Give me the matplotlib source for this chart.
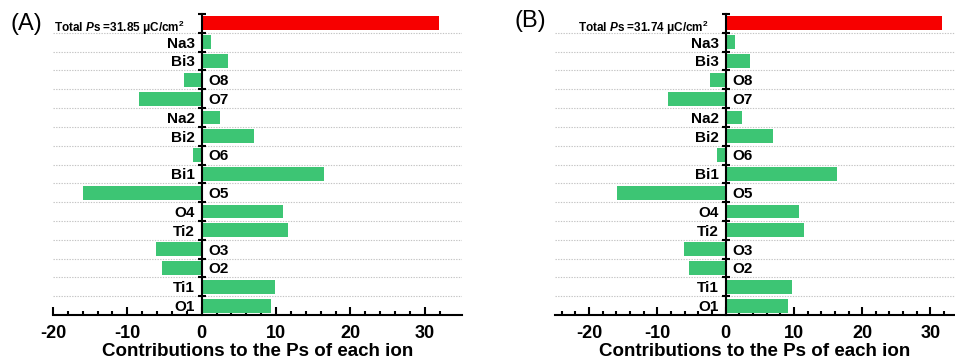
import matplotlib
matplotlib.use("Agg")
import matplotlib.pyplot as plt
import numpy as np

plt.rcParams['font.family'] = ['Liberation Sans', 'DejaVu Sans']
plt.rcParams['mathtext.fontset'] = 'custom'
plt.rcParams['mathtext.rm'] = 'Liberation Sans:bold'
plt.rcParams['mathtext.bf'] = 'Liberation Sans:bold'
plt.rcParams['mathtext.it'] = 'Liberation Sans:italic:bold'
plt.rcParams['mathtext.bfit'] = 'Liberation Sans:italic:bold'
plt.rcParams['axes.unicode_minus'] = False

ions = ["O1", "Ti1", "O2", "O3", "Ti2", "O4", "O5", "Bi1", "O6", "Bi2",
        "Na2", "O7", "O8", "Bi3", "Na3"]
contrib_A = [9.3, 9.9, -5.4, -6.2, 11.6, 10.9, -15.9, 16.4, -1.2, 7.0,
             2.4, -8.4, -2.4, 3.6, 1.3]
contrib_B = [9.2, 9.7, -5.4, -6.1, 11.5, 10.8, -15.9, 16.3, -1.2, 6.9,
             2.4, -8.4, -2.3, 3.6, 1.3]
total_A = 31.85
total_B = 31.74
panel_names = ["(A)", "(B)"]
xlims = [(-20, 35), (-25, 33.6)]
xticks = [-20, -10, 0, 10, 20, 30]

GREEN = "#3dc574"
RED = "#f70000"

fig = plt.figure(figsize=(9.55, 3.6), dpi=100)
axA = fig.add_axes([53/955, 45/360, 409/955, 301/360])
axB = fig.add_axes([555/955, 45/360, 400/955, 301/360])

for ax, vals, total, name, xl in zip([axA, axB], [contrib_A, contrib_B],
                                      [total_A, total_B], panel_names, xlims):
    n = len(ions)
    y = np.arange(n)
    ax.barh(y, vals, height=0.74, color=GREEN, zorder=2)
    ax.barh([n], [total], height=0.74, color=RED, zorder=2)

    # grid lines at category boundaries
    bounds = np.arange(n) + 0.5
    for b in bounds:
        ax.axhline(b, color="#c4c4c4", lw=0.8, ls=(0, (1.2, 1.2)), zorder=1)

    for s in ["top", "right"]:
        ax.spines[s].set_visible(False)
    ax.spines["left"].set_position(("data", 0))
    ax.spines["left"].set_linewidth(1.5)
    ax.spines["left"].set_zorder(3)
    ax.spines["bottom"].set_linewidth(1.5)

    ax.set_yticks(np.arange(n + 1))
    ax.set_yticklabels([])
    ax.tick_params(axis="y", which="major", length=0)
    ax.set_yticks(np.append(bounds, n + 0.5), minor=True)
    ax.tick_params(axis="y", which="minor", direction="inout", length=6, width=1.5)

    ax.set_xticks(xticks)
    ax.set_xticks(np.arange(-24, 34, 2), minor=True)
    ax.tick_params(axis="x", which="major", direction="in", length=6, width=1.5,
                   labelsize=13, pad=7)
    ax.tick_params(axis="x", which="minor", direction="in", length=3, width=1.5)
    for lab in ax.get_xticklabels():
        lab.set_fontweight("bold")
    ax.set_xlim(*xl)
    ax.set_ylim(-0.5, n + 0.5)

    ax.set_xlabel("Contributions to the Ps of each ion", fontsize=13.5,
                  fontweight="bold", labelpad=1)

    for yi, (ion, v) in enumerate(zip(ions, vals)):
        if v >= 0:
            ax.annotate(ion, (0, yi), xytext=(-5, -1), textcoords="offset points",
                        ha="right", va="center", fontsize=11, fontweight="bold")
        else:
            ax.annotate(ion, (0, yi), xytext=(5, -1), textcoords="offset points",
                        ha="left", va="center", fontsize=11, fontweight="bold")
    ax.annotate(r"Total $\mathbfit{P}$s =%.2f μC/cm$^{2}$" % total, (0, n),
                xytext=(-12, -3), textcoords="offset points", ha="right",
                va="center", fontsize=8.5, fontweight="bold")

fig.text(10/955, 1 - 24/360, panel_names[0], fontsize=17, ha="left", va="center")
fig.text(515/955, 1 - 21/360, panel_names[1], fontsize=17, ha="left", va="center")

fig.savefig("out.png", dpi=100)
